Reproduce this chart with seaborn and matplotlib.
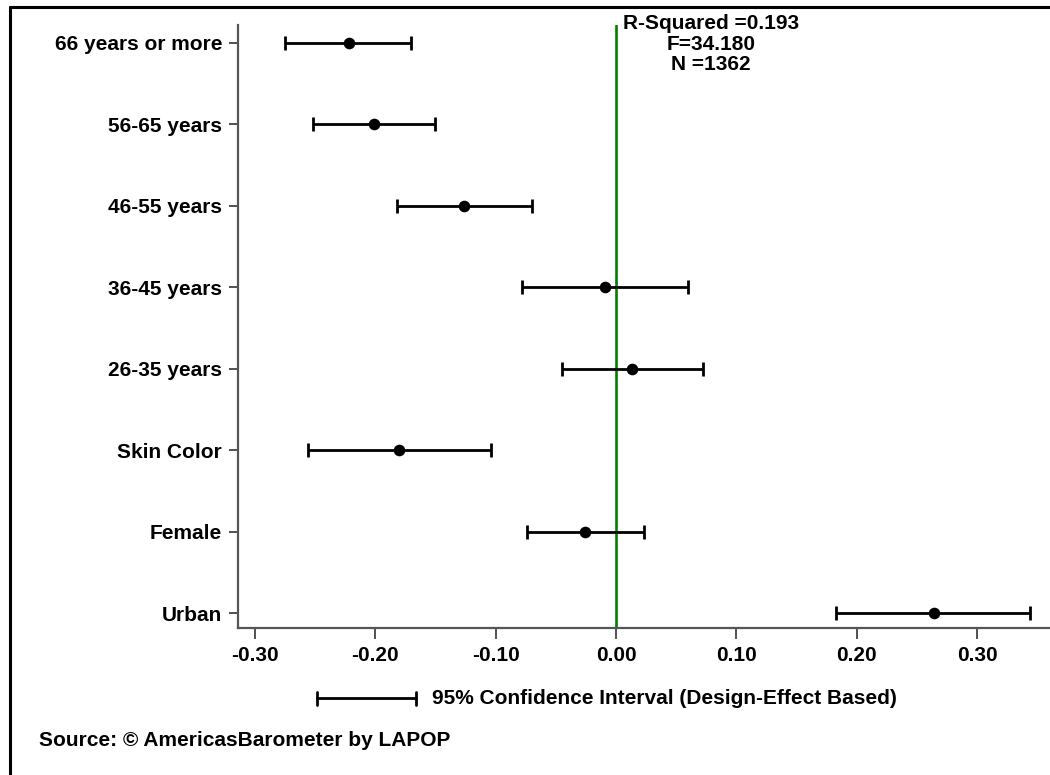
import numpy as np
import pandas as pd
import matplotlib
matplotlib.use("Agg")
import matplotlib.pyplot as plt
from matplotlib.lines import Line2D
import seaborn as sns

# ── Data ─────────────────────────────────────────────────────────────────────
labels = ["66 years or more", "56-65 years", "46-55 years", "36-45 years",
          "26-35 years", "Skin Color", "Female", "Urban"]
coef  = [-0.222, -0.201, -0.126, -0.009, 0.013, -0.180, -0.026, 0.264]
lower = [-0.275, -0.252, -0.182, -0.078, -0.045, -0.256, -0.074, 0.183]
upper = [-0.170, -0.150, -0.070, 0.060, 0.072, -0.104, 0.023, 0.344]
xticks = [-0.30, -0.20, -0.10, 0.00, 0.10, 0.20, 0.30]
stats_text = "R-Squared =0.193\nF=34.180\nN =1362"
legend_text = "95% Confidence Interval (Design-Effect Based)"
source_text = "Source: \u00a9 AmericasBarometer by LAPOP"

df = pd.DataFrame({"label": labels, "coef": coef, "lower": lower, "upper": upper})
df["pos"] = np.arange(len(df))

sns.set_style("white")
plt.rcParams["font.family"] = ["Liberation Sans", "DejaVu Sans"]
plt.rcParams["font.weight"] = "bold"
plt.rcParams["text.color"] = "black"
plt.rcParams["xtick.labelcolor"] = "black"
plt.rcParams["ytick.labelcolor"] = "black"
FS = 15
SPINE = "#555555"

W, H = 1050, 775
fig = plt.figure(figsize=(W / 100, H / 100), dpi=100)
ax = fig.add_axes([238 / W, 1 - 628 / H, (1049 - 238) / W, (628 - 25) / H])

ax.axvline(0, color="#008000", lw=1.9, zorder=1)
ax.errorbar(df["coef"], df["pos"],
            xerr=[df["coef"] - df["lower"], df["upper"] - df["coef"]],
            fmt="none", ecolor="black", elinewidth=2.0, capsize=5,
            capthick=2.0, zorder=2)
sns.scatterplot(data=df, x="coef", y="pos", ax=ax, color="black", s=70,
                edgecolor="black", linewidth=0, zorder=3, legend=False)

ax.set_xlim(-0.3141, 0.3598)
ax.set_ylim(7.184, -0.221)
ax.set_yticks(df["pos"])
ax.set_yticklabels(df["label"], fontsize=FS, fontweight="bold", color="black")
ax.set_xticks(xticks)
ax.set_xticklabels([f"{t:.2f}" for t in xticks], fontsize=FS, fontweight="bold",
                   color="black")
ax.set_xlabel("")
ax.set_ylabel("")
for s in ["top", "right"]:
    ax.spines[s].set_visible(False)
for s in ["left", "bottom"]:
    ax.spines[s].set_color(SPINE)
    ax.spines[s].set_linewidth(1.6)
ax.tick_params(axis="x", length=8, width=1.2, color="#333333", pad=5, direction="out", bottom=True)
ax.tick_params(axis="y", length=6.5, width=1.2, color="#333333", pad=5, direction="out", left=True)

# model statistics
fig.text(711 / W, 1 - 14 / H, stats_text, ha="center", va="top",
         fontsize=FS, fontweight="bold", linespacing=1.1)

# legend key for the confidence interval
ly = 1 - 698 / H
fig.add_artist(Line2D([317 / W, 416 / W], [ly, ly], color="black", lw=2.0))
for cx in (317, 416):
    fig.add_artist(Line2D([cx / W, cx / W], [ly - 6.5 / H, ly + 6.5 / H],
                          color="black", lw=2.0))
fig.text(432 / W, ly, legend_text, ha="left", va="center",
         fontsize=FS, fontweight="bold")

fig.text(39 / W, 1 - 740 / H, source_text, ha="left", va="center",
         fontsize=FS, fontweight="bold")

# outer frame (only top and left edges visible)
fig.add_artist(Line2D([10 / W, 10 / W], [0, 1 - 7 / H], color="black", lw=2.2))
fig.add_artist(Line2D([10 / W, 1], [1 - 7 / H, 1 - 7 / H], color="black", lw=2.2))

fig.savefig("out.png", dpi=100)
